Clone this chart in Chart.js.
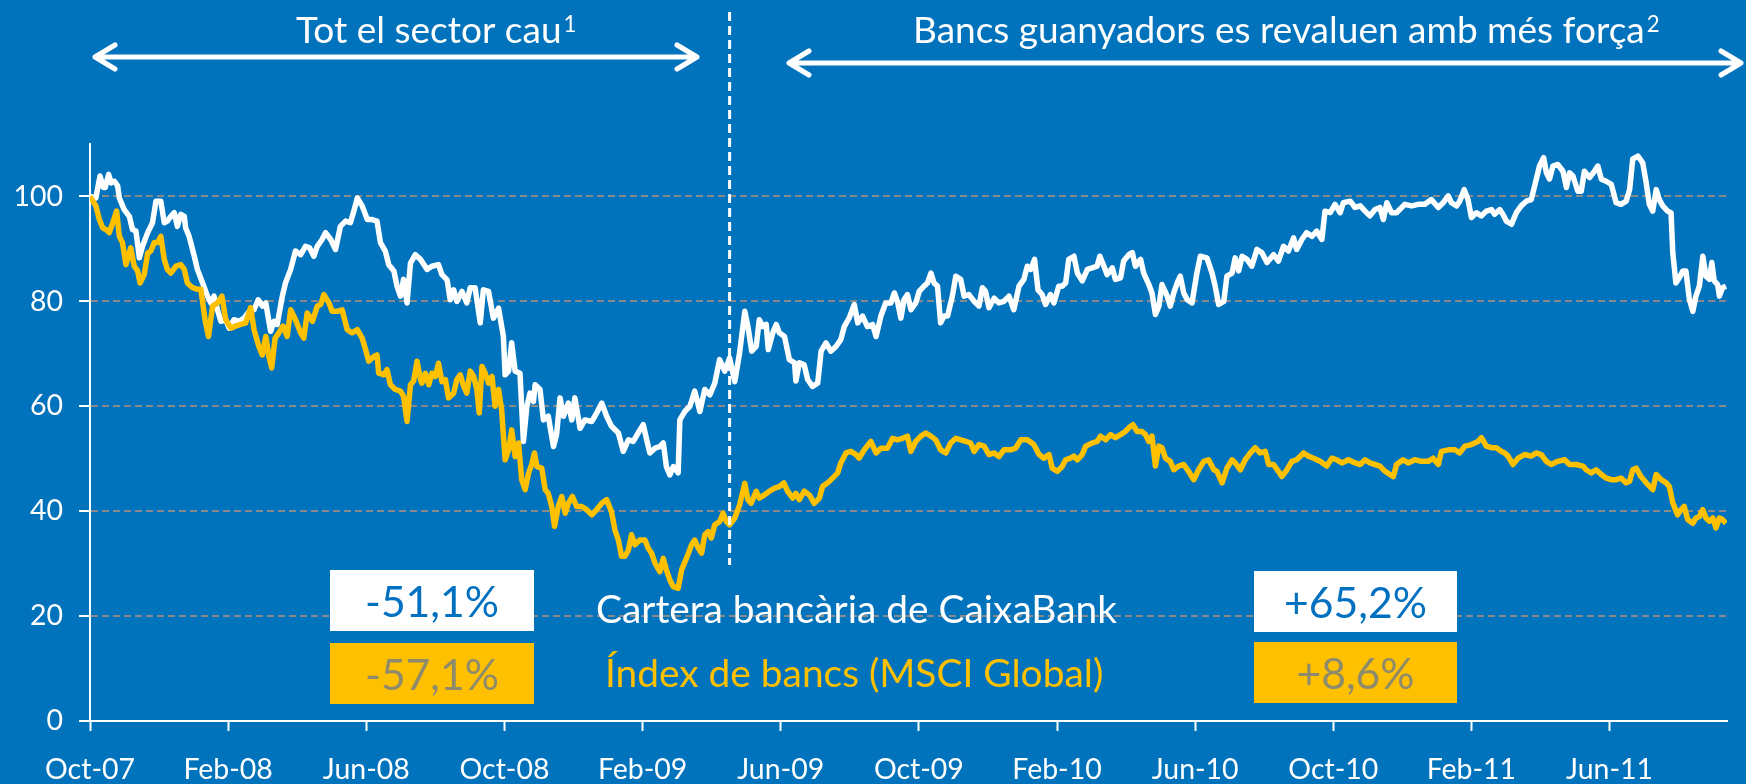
<!DOCTYPE html>
<html>
<head>
<meta charset="utf-8">
<script src="https://cdn.jsdelivr.net/npm/chart.js@4.4.1/dist/chart.umd.min.js"></script>
<style>
  html, body { margin: 0; padding: 0; background: #0173BC; }
  #wrap { position: relative; width: 1746px; height: 784px; }
</style>
</head>
<body>
<div id="wrap"><canvas id="chart"></canvas></div>
<script>
// months since Oct-07 on the x axis, index = 100 at start
const tickLabels = ['Oct-07', 'Feb-08', 'Jun-08', 'Oct-08', 'Feb-09', 'Jun-09',
    'Oct-09', 'Feb-10', 'Jun-10', 'Oct-10', 'Feb-11', 'Jun-11'];

const seriesNames = ['Cartera bancària de CaixaBank', 'Índex de bancs (MSCI Global)'];

const carteraMonths = [
    0, 0.17, 0.29, 0.39, 0.44, 0.54, 0.61, 0.70, 0.80, 0.85, 0.99, 1.14, 1.23, 1.33, 1.43, 1.52, 1.67, 1.81, 1.91, 2.05,
    2.15, 2.24, 2.34, 2.44, 2.53, 2.63, 2.73, 2.77, 2.87, 3.02, 3.11, 3.26, 3.40, 3.50, 3.59, 3.69, 3.79, 3.93, 4.03, 4.17,
    4.32, 4.46, 4.61, 4.75, 4.87, 4.99, 5.09, 5.23, 5.33, 5.42, 5.57, 5.66, 5.81, 5.95, 6.10, 6.24, 6.36, 6.48, 6.58, 6.72,
    6.82, 6.97, 7.11, 7.25, 7.40, 7.54, 7.64, 7.74, 7.88, 8.03, 8.17, 8.31, 8.41, 8.55, 8.65, 8.80, 8.89, 8.99, 9.08, 9.18,
    9.28, 9.42, 9.57,
    9.61, 9.76, 9.90, 10.09, 10.19, 10.34, 10.43, 10.53, 10.62, 10.77, 10.91, 11.01, 11.15, 11.30, 11.39, 11.54, 11.68, 11.83, 11.97, 12.02,
    12.12, 12.21, 12.31, 12.45, 12.55, 12.65, 12.74, 12.84, 12.89, 13.03, 13.13, 13.27, 13.42, 13.51, 13.61, 13.71, 13.85, 13.95, 14.04, 14.19,
    14.33, 14.53, 14.67, 14.82, 14.96, 15.10, 15.30, 15.44, 15.59, 15.73, 15.87, 16.02, 16.12, 16.21, 16.36, 16.50, 16.60, 16.69, 16.79, 16.89,
    17.03, 17.08, 17.22, 17.37, 17.51, 17.66, 17.80, 17.95, 18.09, 18.23, 18.38, 18.52, 18.67, 18.81, 18.96,
    19.05, 19.16, 19.29, 19.38, 19.48, 19.58, 19.64, 19.77, 19.87, 19.96, 20.11, 20.25, 20.40, 20.44, 20.54, 20.68, 20.78, 20.92, 21.07, 21.17,
    21.31, 21.45, 21.60, 21.74, 21.84, 21.98, 22.13, 22.23, 22.37, 22.51, 22.66, 22.76, 22.90, 23.04, 23.19, 23.29, 23.38, 23.48, 23.57, 23.67,
    23.77, 23.91, 24.01, 24.15, 24.25, 24.35, 24.44, 24.54, 24.63, 24.73, 24.83, 24.97, 25.07, 25.21, 25.31, 25.45, 25.60, 25.74, 25.84, 25.93,
    26.03, 26.18, 26.32, 26.46, 26.61, 26.75, 26.90, 27.04, 27.14, 27.24, 27.35, 27.45, 27.57, 27.67, 27.81, 27.91, 28.05, 28.15, 28.25, 28.34,
    28.49,
    28.59, 28.73, 28.88, 29.02, 29.16, 29.24, 29.36, 29.45, 29.60, 29.69, 29.84, 29.93, 30.08, 30.18, 30.27, 30.42, 30.51, 30.66, 30.75, 30.85,
    30.95, 31.04, 31.19, 31.28, 31.38, 31.48, 31.57, 31.67, 31.77, 31.91, 32.05, 32.15, 32.34, 32.49, 32.58, 32.68, 32.83, 32.92, 33.07, 33.16,
    33.26, 33.36, 33.50, 33.64, 33.79, 33.93, 34.08, 34.27, 34.41, 34.56, 34.70, 34.85, 34.94, 35.09, 35.23, 35.38, 35.52, 35.67, 35.76, 35.91,
    36.05, 36.20, 36.29, 36.49, 36.63, 36.78, 36.92, 37.06, 37.21, 37.35, 37.45, 37.55, 37.69, 37.83,
    38.07, 38.27, 38.46, 38.65, 38.84, 39.04, 39.18, 39.33, 39.42, 39.57, 39.66, 39.79, 39.90, 40.00, 40.14, 40.29, 40.43, 40.58, 40.67, 40.82,
    40.91, 41.01, 41.16, 41.30, 41.44, 41.59, 41.73, 41.83, 41.97, 42.09, 42.17, 42.26, 42.36, 42.50, 42.65, 42.75, 42.84, 42.94, 43.08, 43.18,
    43.27, 43.42, 43.56, 43.66, 43.76, 43.90, 44.05, 44.19, 44.33, 44.48, 44.58, 44.67, 44.82, 44.96, 45.06, 45.15, 45.25, 45.35, 45.44, 45.54,
    45.68, 45.78, 45.83, 45.92, 46.02, 46.12, 46.21, 46.31, 46.41, 46.50, 46.60, 46.70, 46.79, 46.89, 46.96, 47.03, 47.13, 47.18, 47.27, 47.37
];
const carteraValues = [
    100, 99.7, 103.9, 101.7, 101.7, 104.2, 102.6, 102.9, 102, 99.7, 97.5, 96.2, 93.7, 93.4, 88.3, 90.5, 93.1, 95, 99.1, 99.1,
    95, 95.3, 96.2, 96.9, 94.3, 96.6, 96.2, 94, 92.4, 88.6, 86.1, 83.5, 81, 79.7, 81, 78.4, 76.2, 76.5, 74.9, 76.5,
    76.2, 76.8, 78.1, 78.4, 80.3, 79.1, 79.7, 74.3, 76.2, 75.6, 81, 83.5, 86.1, 89.6, 88.9, 90.5, 90.2, 88.6, 90.5, 91.8,
    93.1, 91.8, 89.9, 94.3, 95.3, 95, 97.2, 99.7, 98.2, 95.6, 95.6, 95.3, 91.2, 89.6, 87, 85.8, 82.9, 81, 84.2, 79.7,
    87.3, 88.9, 88,
    87.6, 86.1, 86.7, 87, 85.1, 84.1, 80.3, 82.2, 80, 81.9, 79.7, 82.6, 82.6, 75.9, 82.2, 81.9, 76.8, 78.7, 73.3, 66,
    66.7, 72.1, 66.7, 66.3, 53.3, 60, 62.5, 60.9, 64.1, 63.2, 57.4, 58.1, 52.3, 54.6, 61.6, 58.1, 60.6, 57.4, 61.6, 55.8,
    57.4, 57.1, 58.7, 60.6, 58.1, 56.2, 54.9, 51.4, 53.6, 53.3, 54.9, 56.5, 53.6, 51.1, 52, 52.3, 53, 48.5, 46.9, 48.5,
    47.3, 57.4, 59, 60, 62.9, 59, 63.2, 62.2, 64.4, 68.9, 66.7, 69.2, 64.7, 70.2, 78.1,
    75.2, 70.5, 71.4, 76.5, 75.2, 75.6, 70.8, 74, 75.6, 74, 73.3, 68.9, 68.3, 64.8, 68.3, 67.9, 65.1, 63.8, 64.4, 70.5,
    72.1, 70.5, 71.4, 72.7, 75.2, 76.8, 79.4, 75.9, 77.2, 75.2, 75.6, 73.3, 77.2, 79.7, 79.7, 81.6, 80, 76.8, 80.3, 81.3,
    78.4, 79.7, 81.9, 82.9, 83.5, 85.4, 83.5, 82.9, 75.9, 77.2, 77.2, 81, 84.8, 84.2, 81, 81.3, 80, 79.1, 82.6, 81.9,
    78.8, 80.6, 79.7, 80, 81, 78.4, 82.9, 84.2, 86.7, 86.1, 88, 82.2, 81.3, 79.4, 81.3, 79.7, 82.9, 82.9, 83.5, 88,
    88.6,
    85.4, 83.9, 86.1, 86.4, 86.7, 88.6, 86.7, 85.1, 86.4, 84.2, 84.5, 87.7, 88.9, 89.3, 86.7, 88, 85.4, 83.2, 81.6, 77.5,
    79.1, 83.2, 81, 79.1, 81.6, 83.5, 84.8, 81.6, 80.3, 79.7, 85.4, 88.6, 88.3, 85.4, 82.9, 79.4, 80, 84.8, 85.4, 88.3,
    85.8, 88.6, 88, 86.7, 89.9, 89.3, 87.4, 88.9, 87.7, 90.5, 89.6, 92.1, 89.9, 91.8, 93.1, 92.4, 93.4, 91.8, 97.2, 96.9,
    98.5, 96.9, 98.8, 99.1, 97.9, 98.2, 97.2, 96.3, 97.5, 97.9, 95.6, 98.8, 96.9, 96.9,
    98.5, 98.2, 98.5, 98.5, 99.4, 97.9, 98.8, 100.1, 98.8, 98.2, 99.1, 101.3, 99.4, 96, 96.9, 96.3, 97.2, 97.5, 96.6, 97.5,
    96.6, 95.3, 94.7, 96.9, 98.2, 99.1, 99.4, 102, 105.8, 107.4, 104.5, 103.3, 105.8, 106.1, 104.8, 101.7, 104.5, 103.9, 101, 101,
    104.8, 103.6, 104.8, 105.8, 103.3, 102.9, 102.3, 98.8, 98.5, 99.1, 101.3, 107.1, 107.7, 106.4, 102.6, 98.5, 97.2, 101.3, 99.4, 98.2,
    97.2, 96.9, 89.3, 83.5, 84.5, 85.8, 85.8, 80.4, 78.1, 81, 82.9, 88.6, 84.8, 84.2, 87.4, 83.9, 83.2, 81, 82.6, 82.9
];

const msciMonths = [
    0, 0.17, 0.27, 0.37, 0.46, 0.56, 0.66, 0.77, 0.85, 0.94, 1.04, 1.18, 1.28, 1.38, 1.45, 1.57, 1.67, 1.76, 1.86, 1.96,
    2.05, 2.15, 2.24, 2.34, 2.49, 2.63, 2.73, 2.82, 2.97, 3.11, 3.21, 3.33, 3.43, 3.55, 3.69, 3.82, 3.93, 4.08, 4.22, 4.36,
    4.51, 4.65, 4.75, 4.89, 4.99, 5.09, 5.18, 5.26, 5.36, 5.47, 5.59, 5.71, 5.81, 5.95, 6.10, 6.19, 6.29, 6.44, 6.58, 6.68,
    6.77, 6.92, 7.01, 7.16, 7.30, 7.45, 7.59, 7.74, 7.88, 7.98, 8.07, 8.22, 8.31, 8.36, 8.51, 8.60, 8.70, 8.84, 8.99, 9.08,
    9.18, 9.28, 9.37, 9.47, 9.57,
    9.61, 9.71, 9.81, 9.90, 10.00, 10.09, 10.19, 10.29, 10.38, 10.53, 10.62, 10.72, 10.82, 10.91, 11.01, 11.11, 11.20, 11.27, 11.35, 11.44,
    11.54, 11.64, 11.73, 11.83, 11.92, 12.02, 12.12, 12.21, 12.31, 12.41, 12.50, 12.60, 12.70, 12.79, 12.87, 12.94, 13.08, 13.18, 13.27, 13.37,
    13.45, 13.56, 13.66, 13.76, 13.85, 13.97, 14.09, 14.24, 14.38, 14.53, 14.67, 14.82, 14.96, 15.10, 15.20, 15.30, 15.39, 15.49, 15.59, 15.68,
    15.78, 15.92, 16.07, 16.16, 16.26, 16.36, 16.50, 16.60, 16.69, 16.79, 16.89, 17.03, 17.13, 17.27, 17.42, 17.51, 17.61, 17.71, 17.80, 17.90,
    17.99, 18.09, 18.23, 18.33, 18.43, 18.52, 18.67, 18.81, 18.96,
    19.05, 19.14, 19.29, 19.38, 19.53, 19.67, 19.82, 19.96, 20.09, 20.20, 20.35, 20.44, 20.54, 20.68, 20.83, 20.97, 21.12, 21.21, 21.36, 21.50,
    21.65, 21.74, 21.89, 22.03, 22.18, 22.27, 22.42, 22.61, 22.76, 22.90, 23.09, 23.24, 23.38, 23.53, 23.67, 23.77, 23.91, 24.06, 24.20, 24.35,
    24.49, 24.63, 24.78, 24.92, 25.07, 25.21, 25.36, 25.50, 25.60, 25.74, 25.89, 26.03, 26.18, 26.32, 26.46, 26.66, 26.80, 26.95, 27.14, 27.33,
    27.48, 27.62, 27.77, 27.86, 28.01, 28.15, 28.25, 28.39,
    28.49, 28.59, 28.73, 28.83, 29.02, 29.16, 29.26, 29.41, 29.55, 29.69, 29.84, 29.98, 30.08, 30.20, 30.32, 30.46, 30.56, 30.66, 30.75, 30.85,
    30.95, 31.04, 31.14, 31.28, 31.38, 31.52, 31.67, 31.81, 31.96, 32.10, 32.25, 32.39, 32.54, 32.63, 32.78, 32.92, 33.07, 33.16, 33.31, 33.45,
    33.60, 33.74, 33.88, 34.03, 34.13, 34.27, 34.41, 34.51, 34.66, 34.80, 34.94, 35.14, 35.28, 35.43, 35.62, 35.81, 35.96, 36.10, 36.25, 36.44,
    36.63, 36.78, 36.92, 37.06, 37.21, 37.35, 37.50, 37.64, 37.74, 37.83,
    38.02, 38.17, 38.36, 38.55, 38.75, 38.89, 39.04, 39.13, 39.33, 39.52, 39.66, 39.81, 40.00, 40.19, 40.29, 40.43, 40.58, 40.72, 40.87, 40.96,
    41.06, 41.20, 41.35, 41.54, 41.73, 41.88, 42.02, 42.17, 42.31, 42.50, 42.70, 42.84, 43.03, 43.23, 43.32, 43.47, 43.61, 43.76, 43.90, 44.05,
    44.19, 44.33, 44.48, 44.58, 44.67, 44.77, 44.91, 45.06, 45.25, 45.35, 45.49, 45.64, 45.73, 45.83, 45.97, 46.07, 46.16, 46.26, 46.41, 46.50,
    46.60, 46.70, 46.79, 46.89, 46.99, 47.08, 47.18, 47.27, 47.37
];
const msciValues = [
    100, 98.2, 95.6, 94, 93.7, 93.1, 95, 97.2, 92.4, 91.2, 87, 90.2, 86.7, 85.8, 83.5, 85.1, 89.2, 89.6, 91.2, 91.2,
    92.4, 88, 86.1, 85.4, 86.7, 87, 86.1, 83.5, 82.6, 82.3, 82.3, 76.5, 73.3, 79.1, 79.7, 81, 76.5, 74.9, 75.3, 75.6,
    75.9, 78.8, 74.6, 71.4, 69.8, 73.3, 69.5, 67.3, 73, 74, 75.3, 73.3, 78.4, 76.5, 74, 73, 77.8, 76.2, 79.1, 79.4,
    81.3, 79.7, 78.1, 78.1, 78.4, 74.6, 74, 74.6, 73, 70.8, 68.6, 69.5, 69.8, 66.3, 66, 67, 64.1, 63.2, 62.9, 61.9,
    57.1, 64.1, 64.8, 68.6, 65.1,
    64.4, 66.3, 64.1, 66.3, 65.7, 68.2, 64.7, 65.1, 61.6, 62.5, 65.1, 66, 63.8, 62.5, 66.7, 65.7, 63.2, 58.7, 67.6, 66.3,
    64.4, 65.7, 60, 63.2, 59.3, 49.8, 51.7, 55.5, 50.4, 53, 46, 44.1, 47.3, 48.9, 51.1, 48.5, 48.2, 44.1, 43.4, 40.9,
    37.1, 40.9, 42.8, 39.6, 41.5, 42.8, 40.9, 40.9, 40.3, 39.3, 40.3, 41.5, 42.2, 39.9, 36.4, 34.5, 31.4, 31.4, 32.6, 35.5,
    33.6, 34.5, 34.5, 33, 32, 30.1, 28.5, 31, 28.8, 26.9, 25.6, 25.3, 28.8, 31, 33.6, 34.5, 33, 32, 35.5, 36.1,
    34.9, 37.4, 38, 39.6, 38, 37.4, 38.7, 41.2, 45.3,
    42.2, 41.5, 43.8, 42.5, 43.1, 43.8, 44.4, 44.7, 45.4, 43.8, 42.5, 43.4, 42.2, 43.8, 43.1, 41.5, 42.5, 44.7, 45.4, 46.3,
    47.3, 49.2, 51.1, 51.4, 50.8, 50.1, 51.7, 53.3, 51.1, 52, 52, 53.9, 53.6, 53.9, 54.3, 51.4, 53.3, 54.3, 54.9, 54.3,
    53.6, 51.7, 51.1, 53, 53.9, 53.6, 53.3, 53, 51.4, 52.7, 52.4, 50.8, 51.1, 50.4, 51.7, 51.7, 52, 53.6, 53.6, 52.7,
    50.8, 50.1, 50.8, 48.2, 47.6, 48.5, 49.8, 50.1,
    50.5, 49.8, 50.8, 52.4, 53, 53.3, 54.3, 53.6, 54.6, 54, 54.6, 55.2, 55.9, 56.5, 55.2, 55.2, 54.6, 53.3, 54.3, 48.6,
    52.4, 52.1, 50.1, 49.5, 47.9, 48.6, 48.9, 47.6, 46, 47.9, 49.5, 49.8, 47.9, 47.6, 45.4, 48.2, 49.8, 49.2, 47.9, 49.8,
    51.1, 52.1, 51.1, 51.4, 48.9, 48.9, 47.6, 46.6, 47.9, 49.5, 49.8, 51.1, 50.5, 50.1, 49.5, 48.6, 50.1, 49.8, 49.2, 49.8,
    49.2, 48.9, 49.8, 49.2, 48.9, 48.6, 47.6, 47, 46.6, 48.9,
    49.8, 49.2, 49.8, 49.5, 49.5, 50.1, 48.9, 51.4, 51.7, 51.7, 51.1, 52.4, 52.7, 53.3, 54, 52.4, 52.1, 52.1, 51.4, 51.1,
    50.5, 48.9, 50.1, 50.8, 50.5, 51.1, 50.8, 49.5, 48.9, 49.5, 49.8, 48.9, 48.9, 48.6, 47.9, 47.3, 47.9, 47, 46.3, 46,
    46, 46.3, 45.4, 45.7, 47.9, 48.2, 46.6, 45.4, 44.1, 47, 46, 45.4, 44.7, 41.6, 39.3, 40.3, 40.9, 38.4, 37.7, 38.7,
    39, 40.3, 38.7, 38.1, 38.7, 36.8, 38.7, 38.4, 37.7
];

// changes shown in the boxes: [first period, second period]
const carteraChange = ['-51,1%', '+65,2%'];
const msciChange = ['-57,1%', '+8,6%'];
const periodTitles = ['Tot el sector cau', 'Bancs guanyadors es revaluen amb més força'];
const dividerMonth = 18.52;

const BG = '#0173BC';
const GOLD = '#FFC000';
const BLUE_TEXT = '#0070C0';
const GREY_TEXT = '#8E8A6C';
const FONT = 'Lato, "Noto Sans", sans-serif';

// size a font so a string takes a given width
const measureCtx = document.createElement('canvas').getContext('2d');
const sizeToFit = (text, width) => {
    measureCtx.font = `100px ${FONT}`;
    return 100 * width / measureCtx.measureText(text).width;
};

const tickSize = sizeToFit('Oct-07', 90);
const titleSize = sizeToFit(periodTitles[1], 732);
const legendSize = sizeToFit(seriesNames[0], 521);
const boxSize = sizeToFit(carteraChange[0], 134);

const drawArrow = (ctx, x1, x2, y) => {
    ctx.beginPath();
    ctx.moveTo(x1, y);
    ctx.lineTo(x2, y);
    ctx.moveTo(x1 + 20, y - 12);
    ctx.lineTo(x1, y);
    ctx.lineTo(x1 + 20, y + 12);
    ctx.moveTo(x2 - 20, y - 12);
    ctx.lineTo(x2, y);
    ctx.lineTo(x2 - 20, y + 12);
    ctx.stroke();
};

const drawTitle = (ctx, text, sup, left, baseline) => {
    ctx.font = `${titleSize}px ${FONT}`;
    ctx.fillText(text, left, baseline);
    const w = ctx.measureText(text).width;
    ctx.font = `${titleSize * 0.6}px ${FONT}`;
    ctx.fillText(sup, left + w + 2, baseline - titleSize * 0.3);
};

const drawBox = (ctx, x, y, w, h, fill, text, color) => {
    ctx.fillStyle = fill;
    ctx.fillRect(x, y, w, h);
    ctx.fillStyle = color;
    ctx.font = `${boxSize}px ${FONT}`;
    ctx.textAlign = 'center';
    ctx.fillText(text, x + w / 2, y + 47);
    ctx.textAlign = 'left';
};

const slideOverlay = {
    id: 'slideOverlay',
    beforeDraw(chart) {
        const { ctx, width, height } = chart;
        ctx.save();
        ctx.fillStyle = BG;
        ctx.fillRect(0, 0, width, height);
        ctx.restore();
    },
    afterDraw(chart) {
        const { ctx } = chart;
        const xScale = chart.scales.x;
        ctx.save();
        ctx.strokeStyle = '#fff';
        ctx.fillStyle = '#fff';
        ctx.lineCap = 'round';
        ctx.lineJoin = 'round';
        ctx.lineWidth = 5;
        drawArrow(ctx, 95, 697, 57);
        drawArrow(ctx, 789, 1741, 63);

        // divider between the two periods
        const dx = xScale.getPixelForValue(dividerMonth);
        ctx.lineCap = 'butt';
        ctx.lineWidth = 3;
        ctx.setLineDash([9, 5]);
        ctx.beginPath();
        ctx.moveTo(dx, 12);
        ctx.lineTo(dx, 565);
        ctx.stroke();
        ctx.setLineDash([]);

        ctx.textBaseline = 'alphabetic';
        drawTitle(ctx, periodTitles[0], '1', 296, 43);
        drawTitle(ctx, periodTitles[1], '2', 913, 43);

        drawBox(ctx, 330, 570, 204, 61, '#fff', carteraChange[0], BLUE_TEXT);
        drawBox(ctx, 330, 643, 204, 61, GOLD, msciChange[0], GREY_TEXT);
        drawBox(ctx, 1254, 571, 203, 61, '#fff', carteraChange[1], BLUE_TEXT);
        drawBox(ctx, 1254, 642, 203, 61, GOLD, msciChange[1], GREY_TEXT);

        ctx.font = `${legendSize}px ${FONT}`;
        ctx.fillStyle = '#fff';
        ctx.fillText(seriesNames[0], 596, 623);
        ctx.fillStyle = GOLD;
        ctx.fillText(seriesNames[1], 605, 687);
        ctx.restore();
    }
};

Chart.defaults.font.family = FONT;

new Chart(document.getElementById('chart'), {
    type: 'line',
    data: {
        datasets: [{
            label: seriesNames[0],
            data: carteraMonths.map((m, i) => ({ x: m, y: carteraValues[i] })),
            borderColor: '#fff',
            borderWidth: 5.5,
            borderJoinStyle: 'round',
            pointRadius: 0,
            order: 2
        }, {
            label: seriesNames[1],
            data: msciMonths.map((m, i) => ({ x: m, y: msciValues[i] })),
            borderColor: GOLD,
            borderWidth: 5.5,
            borderJoinStyle: 'round',
            pointRadius: 0,
            order: 1
        }]
    },
    options: {
        responsive: true,
        maintainAspectRatio: false,
        animation: false,
        layout: { padding: { top: 144, right: 19, left: 0, bottom: 0 } },
        plugins: { legend: { display: false }, tooltip: { enabled: false } },
        elements: { line: { tension: 0 } },
        scales: {
            x: {
                type: 'linear',
                min: 0,
                max: 47.4,
                afterBuildTicks: (scale) => { scale.ticks = scale.ticks.filter(t => t.value % 4 === 0); },
                afterFit: (scale) => { scale.height = 63; },
                ticks: {
                    stepSize: 4,
                    autoSkip: false,
                    maxRotation: 0,
                    color: '#fff',
                    padding: 22,
                    font: { size: tickSize },
                    callback: (v) => tickLabels[v / 4]
                },
                grid: { drawOnChartArea: false, tickColor: '#fff', tickLength: 10, tickWidth: 2 },
                border: { color: '#fff', width: 2 }
            },
            y: {
                min: 0,
                max: 110,
                afterBuildTicks: (scale) => { scale.ticks = scale.ticks.filter(t => t.value <= 100); },
                afterFit: (scale) => { scale.width = 90; },
                ticks: { stepSize: 20, color: '#fff', padding: 16, font: { size: tickSize } },
                grid: { color: '#8a8a8a', lineWidth: 2, tickColor: '#fff', tickLength: 11, tickWidth: 2 },
                border: { color: '#fff', width: 2, dash: [7, 4] }
            }
        }
    },
    plugins: [slideOverlay]
});
</script>
</body>
</html>
